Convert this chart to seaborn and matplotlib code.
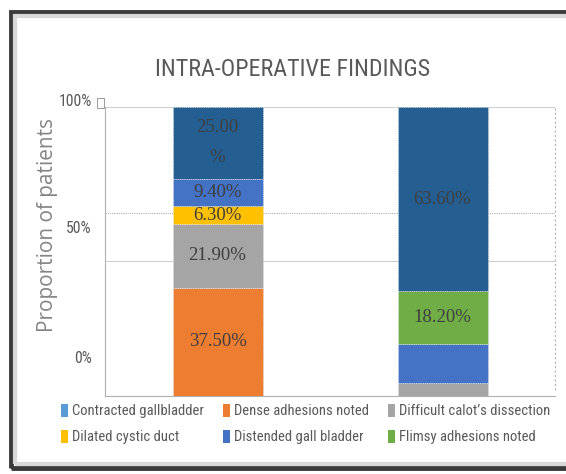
import matplotlib
matplotlib.use("Agg")
import matplotlib.pyplot as plt
import matplotlib.transforms as mtransforms
import seaborn as sns
import pandas as pd
import numpy as np
from matplotlib.patches import Rectangle, Patch

sns.set_theme(style="white")
NARROW = ['Roboto Condensed', 'Liberation Sans Narrow', 'DejaVu Sans']
plt.rcParams['font.family'] = NARROW
plt.rcParams['font.stretch'] = 'condensed'

# ---- data ----
groups = ["Group A", "Group B"]
series = ["Contracted gallbladder", "Dense adhesions noted", "Difficult calot\u2019s dissection",
          "Dilated cystic duct", "Distended gall bladder", "Flimsy adhesions noted", "Others"]
colors = ["#5B9BD5", "#ED7D31", "#A5A5A5", "#FFC000", "#4472C4", "#70AD47", "#255E91"]
values_a = [0.0, 37.5, 21.9, 6.3, 9.4, 0.0, 25.0]
values_b = [0.0, 0.0, 4.5, 0.0, 13.6, 18.2, 63.6]
labels_a = ["", "37.50%", "21.90%", "6.30%", "9.40%", "", "25.00\n%"]
labels_b = ["", "", "", "", "", "18.20%", "63.60%"]
ytick_labels = ["0%", "50%", "100%"]
ytick_pos = [0.131, 0.581, 1.02]

W, H = 566, 474
fig = plt.figure(figsize=(W / 100, H / 100), dpi=100)
ax = fig.add_axes([105 / W, 1 - 396 / H, 450 / W, 289 / H])

df = pd.DataFrame({"group": np.repeat(groups, len(series)),
                   "series": series * 2,
                   "value": np.array(values_a + values_b) / 100.0})

bottoms = np.zeros(len(groups))
for i, s in enumerate(series):
    sub = df[df["series"] == s]
    vals = sub["value"].to_numpy()
    sns.barplot(data=sub, x="group", y="value", order=groups, color=colors[i],
                bottom=bottoms, width=0.4, ax=ax, errorbar=None, saturation=1,
                edgecolor="#dfe6ee", linewidth=0.6, linestyle=":", zorder=2 + 2 * i)
    for j, labs in enumerate([labels_a, labels_b]):
        if labs[i]:
            ax.text(j, bottoms[j] + vals[j] / 2, labs[i], ha="center", va="center",
                    family=["Liberation Serif", "DejaVu Serif"], fontstretch="normal",
                    fontsize=13.5, color="#3f3f3f", zorder=3 + 2 * i, linespacing=2.0)
    bottoms = bottoms + vals

ax.set_xlim(-0.5, 1.5)
ax.set_xlabel("")
ax.set_ylabel("")
ax.set_xticks([])
ax.set_yticks([])
ax.set_ylim(0, 1)
trans = mtransforms.blended_transform_factory(ax.transAxes, ax.transData)
tick_texts = []
for p, lab in zip(ytick_pos, ytick_labels):
    tick_texts.append(ax.text(-13 / 450, p, lab, transform=trans, ha="right", va="center",
                              fontsize=12, color="#595959", clip_on=False))
for sp in ["top", "right"]:
    ax.spines[sp].set_visible(False)
for sp in ["left", "bottom"]:
    ax.spines[sp].set_linestyle((0, (1, 1)))
    ax.spines[sp].set_color("#b0b0b0")
    ax.spines[sp].set_linewidth(0.8)
ax.axhline(1.0, color="#d0d0d0", lw=0.8, zorder=1)
ax.axhline(0.467, color="#d0d0d0", lw=0.8, zorder=1)
ax.plot([0, 1], [0.633, 0.633], transform=ax.transAxes, color="#b0b0b0", lw=0.8,
        ls=(0, (1, 1)), zorder=1)
ax.plot([1, 1], [0.02, 1.0], transform=ax.transAxes, color="#b0b0b0", lw=0.8,
        ls=(0, (2, 2)), zorder=1, clip_on=False)
ax.add_patch(Rectangle((-8 / 450, 0.995), 7 / 450, 0.035, transform=trans, fill=False,
                       edgecolor="#9a9a9a", lw=0.7, clip_on=False))

ylab = fig.text(48 / W, 1 - 225 / H, "Proportion of patients", rotation=90, ha="center",
                va="center", fontsize=14, color="#858585",
                family=["Open Sans", "DejaVu Sans"], fontstretch="normal")
title = fig.text(293 / W, 1 - 70 / H, "INTRA-OPERATIVE FINDINGS", ha="center", va="center",
                 fontsize=18, color="#595959")

order = [0, 3, 1, 4, 2, 5]
handles = [Patch(facecolor=colors[k], edgecolor="none") for k in order]
names = [series[k] for k in order]


def make_legend(fs):
    return fig.legend(handles, names, ncol=3, loc="center",
                      bbox_to_anchor=(306 / W, 1 - 424 / H), frameon=False, fontsize=fs,
                      labelcolor="#595959", handlelength=0.45, handleheight=1.0,
                      handletextpad=0.3, columnspacing=1.3, labelspacing=0.8)


def fit(txt, target, axis="w"):
    fig.canvas.draw()
    bb = txt.get_window_extent()
    cur = bb.width if axis == "w" else bb.height
    txt.set_fontsize(txt.get_fontsize() * target / cur)


fit(title, 275)
fit(ylab, 215, axis="h")
fit(tick_texts[2], 33)
for t in tick_texts[:2]:
    t.set_fontsize(tick_texts[2].get_fontsize())

fs = 12.5
leg = make_legend(fs)
for _ in range(3):
    fig.canvas.draw()
    w = leg.get_window_extent().width
    fs = fs * 505 / w
    leg.remove()
    leg = make_legend(fs)

# outer frame
fig.patches.append(Rectangle((11 / W, 6 / H), 1.2, 1 - 18 / H, transform=fig.transFigure,
                             fill=False, edgecolor="#3a3a3a", lw=3.5))
fig.patches.append(Rectangle((15 / W, 10 / H), 1.2, 1 - 26 / H, transform=fig.transFigure,
                             fill=False, edgecolor="#d8d8d8", lw=3))

fig.savefig("out.png", dpi=100)
